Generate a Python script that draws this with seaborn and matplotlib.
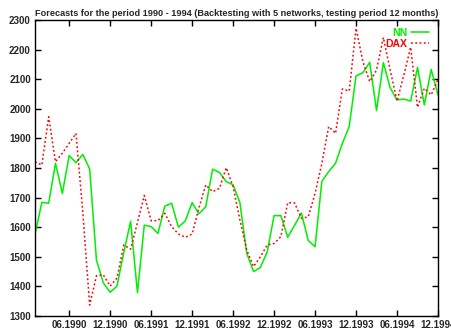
import matplotlib
matplotlib.use("Agg")
import matplotlib.pyplot as plt
import seaborn as sns
import pandas as pd

# Monthly index values, January 1990 .. December 1994
months = list(range(60))
nn = [1576, 1684, 1681, 1816, 1714, 1842, 1818, 1846, 1797, 1489,
      1412, 1380, 1401, 1515, 1620, 1379, 1607, 1602, 1579, 1671,
      1681, 1600, 1621, 1683, 1645, 1669, 1796, 1785, 1754, 1743,
      1683, 1512, 1450, 1464, 1517, 1639, 1639, 1566, 1606, 1648,
      1555, 1534, 1755, 1788, 1816, 1883, 1940, 2111, 2122, 2157,
      1994, 2156, 2071, 2030, 2033, 2026, 2140, 2013, 2133, 2047]
dax = [1821, 1810, 1973, 1821, 1850, 1883, 1917, 1650, 1337, 1436,
       1439, 1401, 1428, 1540, 1526, 1616, 1707, 1622, 1622, 1647,
       1602, 1577, 1566, 1577, 1665, 1743, 1720, 1731, 1801, 1737,
       1624, 1523, 1467, 1500, 1540, 1545, 1568, 1683, 1682, 1630,
       1635, 1714, 1816, 1940, 1917, 2067, 2060, 2272, 2160, 2092,
       2131, 2241, 2131, 2026, 2114, 2208, 2005, 2069, 2047, 2100]
tick_pos = [5, 11, 17, 23, 29, 35, 41, 47, 53, 59]
tick_labels = ["06.1990", "12.1990", "06.1991", "12.1991", "06.1992",
               "12.1992", "06.1993", "12.1993", "06.1994", "12.1994"]
y_ticks = [1300, 1400, 1500, 1600, 1700, 1800, 1900, 2000, 2100, 2200, 2300]

sns.set_theme(style="ticks")
plt.rcParams["font.family"] = ["Liberation Sans", "DejaVu Sans"]
plt.rcParams["font.weight"] = "bold"

df = pd.DataFrame({"month": months, "NN": nn, "DAX": dax})

fig = plt.figure(figsize=(4.51, 3.31), dpi=100)
ax = fig.add_axes([35 / 451, 15 / 331, 403 / 451, 296 / 331])

sns.lineplot(data=df, x="month", y="NN", ax=ax, color="#00ee00",
             linewidth=1.1, label="NN")
sns.lineplot(data=df, x="month", y="DAX", ax=ax, color="#ff0000",
             linewidth=1.1, linestyle=(0, (1.2, 1.6)), label="DAX")

ax.set_xlim(0, 59)
ax.set_ylim(1300, 2300)
ax.set_xticks(tick_pos)
ax.set_xticklabels(tick_labels)
ax.set_yticks(y_ticks)
ax.set_xlabel("")
ax.set_ylabel("")
ax.tick_params(direction="in", length=4, width=1, color="black",
               top=True, right=True, labelsize=7, pad=3)
for lab in ax.get_xticklabels() + ax.get_yticklabels():
    lab.set_fontweight("bold")
for sp in ax.spines.values():
    sp.set_visible(True)
    sp.set_color("black")
    sp.set_linewidth(1.0)

ax.set_title("Forecasts for the period 1990 - 1994 (Backtesting with 5 networks, "
             "testing period 12 months)", fontsize=6.6, fontweight="bold", pad=3)

ax.legend(loc="upper right", bbox_to_anchor=(1 - 9 / 403, 1 - 8 / 296),
          frameon=False, markerfirst=False, labelcolor="linecolor",
          prop={"weight": "bold", "size": 7.5}, handlelength=1.7,
          handletextpad=0.4, labelspacing=0.05, borderpad=0,
          borderaxespad=0)

fig.savefig("out.png", dpi=100)
